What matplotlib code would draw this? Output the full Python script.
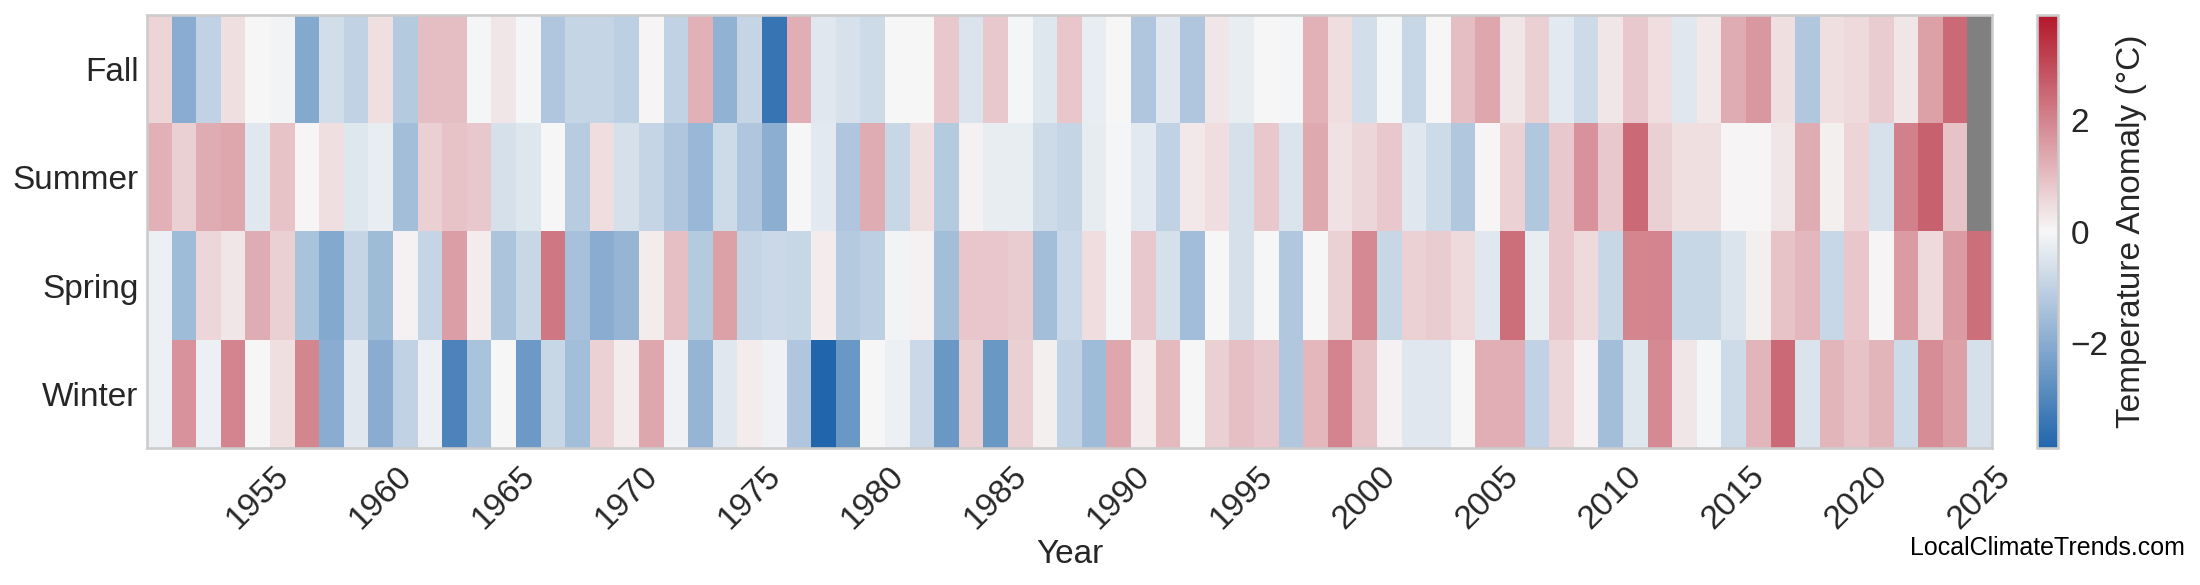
#!/usr/bin/env python3
"""
Seasonal temperature anomaly heatmap (1951-2025), one row per season.
"""
import matplotlib
matplotlib.use('Agg')  # Use non-interactive backend
import matplotlib.pyplot as plt
from matplotlib.colors import LinearSegmentedColormap
import numpy as np

years = list(range(1951, 2026))
seasons = ['Fall', 'Summer', 'Spring', 'Winter']
tick_years = list(range(1955, 2026, 5))

# Anomalies in degC (NaN = no data yet)
fall = [
    0.6, -2.0, -1.0, 0.4, 0.0, -0.1, -2.1, -0.7, -1.0, 0.4,
    -1.2, 1.0, 1.0, -0.05, 0.3, -0.05, -1.3, -0.9, -0.9, -1.05,
    0.05, -1.0, 1.2, -1.85, -0.9, -3.5, 1.25, -0.4, -0.55, -0.75,
    0.0, 0.0, 0.8, -0.5, 0.8, -0.05, -0.45, 0.85, -0.25, 0.0,
    -1.3, -0.4, -1.3, 0.3, -0.25, 0.0, -0.05, 1.2, 0.45, -0.65,
    -0.05, -0.85, 0.0, 1.0, 1.4, 0.3, 0.7, -0.35, -0.75, 0.3,
    0.8, 0.45, -0.4, 0.25, 1.3, 1.65, 0.4, -1.25, 0.4, 0.5,
    0.75, 0.3, 1.5, 2.45, np.nan,
]
summer = [
    1.2, 0.7, 1.3, 1.4, -0.4, 0.9, 0.05, 0.4, -0.45, -0.25,
    -1.5, 0.7, 0.9, 0.8, -0.6, -0.45, 0.0, -1.15, 0.45, -0.6,
    -0.9, -1.3, -1.7, -0.75, -1.3, -1.95, 0.0, -0.35, -1.3, 1.3,
    -0.85, 0.4, -1.2, 0.1, -0.25, -0.25, -0.75, -0.9, -0.3, -0.05,
    -0.35, -1.0, 0.25, 0.45, -0.6, 0.8, -0.5, 1.35, 0.35, 0.55,
    0.8, -0.4, -0.75, -1.25, 0.05, 0.65, -1.25, 0.8, 1.75, 0.8,
    2.45, 0.7, 0.4, 0.4, 0.05, 0.05, 0.3, 1.3, 0.15, 0.6,
    -0.55, 2.05, 2.6, 0.9, np.nan,
]
spring = [
    -0.2, -1.6, 0.55, 0.3, 1.3, 0.7, -1.4, -2.1, -0.9, -1.6,
    0.1, -0.9, 1.55, 0.2, -1.35, -0.85, 2.2, -1.45, -2.0, -1.75,
    0.2, 0.95, -1.2, 1.5, -0.9, -0.8, -0.85, 0.2, -1.2, -1.05,
    -0.1, 0.1, -1.5, 0.85, 0.85, 0.75, -1.5, -0.8, 0.45, -0.05,
    0.8, -0.6, -1.55, 0.0, -0.6, 0.0, -1.25, 0.0, 0.65, 1.9,
    -0.85, 0.65, 0.75, 0.5, -0.4, 2.35, -0.25, 0.8, 0.5, -0.85,
    1.95, 2.0, -0.85, -0.85, -0.5, 0.15, 0.9, 1.1, -0.85, 0.85,
    0.05, 1.6, 0.5, 1.6, 2.35,
]
winter = [
    -0.2, 1.75, -0.2, 2.0, 0.0, 0.4, 1.95, -2.0, -0.4, -2.0,
    -1.0, -0.2, -3.1, -1.4, 0.0, -2.5, -0.85, -1.5, 0.65, 0.2,
    1.4, -0.15, -1.75, -0.4, 0.2, -0.15, -1.3, -3.9, -2.55, 0.0,
    -0.2, -0.8, -2.55, 0.7, -2.55, 0.7, 0.15, -1.0, -1.6, 1.4,
    0.2, 1.05, 0.0, 0.7, 0.95, 0.8, -1.25, 1.1, 2.0, 0.9,
    0.1, -0.4, -0.4, 0.0, 1.25, 1.25, -1.0, 0.55, 0.1, -1.5,
    -0.45, 1.9, 0.3, -0.05, -0.75, 1.15, 2.45, -0.5, 1.15, 0.9,
    1.15, -0.75, 1.85, 1.5, -0.6,
]

plt.rcParams['font.family'] = ['Liberation Sans', 'DejaVu Sans']
text_color = '#262626'
edge_color = '#cccccc'

data = np.ma.masked_invalid(np.array([fall, summer, spring, winter], dtype=float))

cmap = LinearSegmentedColormap.from_list('anomaly', ['#2166ac', '#f7f7f7', '#b2182b'])
cmap.set_bad('#808080')

fig = plt.figure(figsize=(2200 / 150, 585 / 150), dpi=150)
ax = fig.add_axes([147 / 2200, 137 / 585, 1845 / 2200, 433 / 585])
cax = fig.add_axes([2037 / 2200, 137 / 585, 21 / 2200, 433 / 585])

img = ax.imshow(
    data,
    cmap=cmap,
    vmin=-3.9,
    vmax=3.9,
    aspect='auto',
    interpolation='nearest',
    extent=[years[0] - 0.5, years[-1] + 0.5, len(seasons), 0],
)

ax.set_yticks(np.arange(len(seasons)) + 0.5)
ax.set_yticklabels(seasons)
ax.set_xticks(tick_years)
ax.set_xticklabels([str(y) for y in tick_years], rotation=45)
ax.tick_params(axis='both', length=0, labelsize=16, labelcolor=text_color)
ax.tick_params(axis='x', pad=6)
ax.tick_params(axis='y', pad=4)
ax.set_xlabel('Year', fontsize=16, color=text_color, labelpad=2)
for spine in ax.spines.values():
    spine.set_color(edge_color)
    spine.set_linewidth(1.25)

cbar = fig.colorbar(img, cax=cax)
cbar.set_ticks([-2, 0, 2])
cbar.ax.tick_params(length=0, labelsize=16, labelcolor=text_color, pad=6)
cbar.set_label('Temperature Anomaly (°C)', fontsize=16, color=text_color, labelpad=3.5)
cbar.outline.set_edgecolor(edge_color)
cbar.outline.set_linewidth(1.25)

fig.text(2185 / 2200, 30 / 585, 'LocalClimateTrends.com', fontsize=12,
         color='black', ha='right', va='baseline')

fig.savefig('out.png', dpi=150)
plt.close(fig)
